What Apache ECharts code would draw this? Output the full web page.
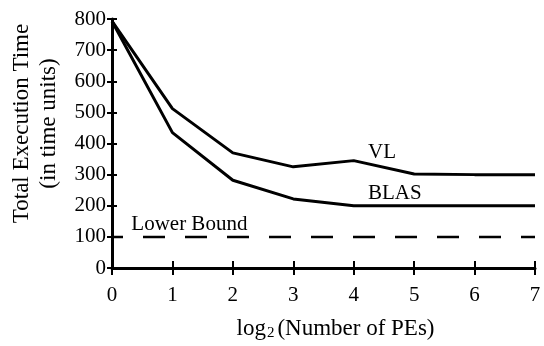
<!DOCTYPE html>
<html>
<head>
<meta charset="utf-8">
<script src="https://cdn.jsdelivr.net/npm/echarts@6/dist/echarts.min.js"></script>
<style>
  html, body { margin: 0; padding: 0; background: #fff; }
  #chart { width: 544px; height: 346px; }
</style>
</head>
<body>
<div id="chart"></div>
<script>
// log2(Number of PEs)
const xValues = [0, 1, 2, 3, 4, 5, 6, 7];
const vlTimes = [793, 512, 370, 325, 345, 302, 300, 300];
const blasTimes = [793, 435, 282, 222, 200, 200, 200, 200];
const lowerBound = [100, 100, 100, 100, 100, 100, 100, 100];

const fontFamily = 'Liberation Serif';
const black = '#000';

const chart = echarts.init(document.getElementById('chart'));

const pairs = vals => xValues.map((x, i) => [x, vals[i]]);

const lineSeries = (name, vals, dashed) => ({
  name: name,
  type: 'line',
  data: pairs(vals),
  symbol: 'none',
  silent: true,
  lineStyle: dashed
    ? { color: black, width: 2.5, type: [22, 20], dashOffset: 11 }
    : { color: black, width: 3 }
});

// text placed in data coordinates next to each curve
const curveLabel = (text, coord) => ({
  markPoint: {
    symbol: 'circle',
    symbolSize: 0,
    silent: true,
    data: [{ coord: coord }],
    label: {
      show: true,
      formatter: text,
      position: 'inside',
      color: black,
      fontFamily: fontFamily,
      fontSize: 21
    }
  }
});

const option = {
  backgroundColor: '#fff',
  animation: false,
  grid: { left: 107, right: 9, top: 19, bottom: 77 },
  xAxis: [
    {
      type: 'value',
      min: 0,
      max: 7,
      interval: 1,
      name: 'log{sub|2}(Number of PEs)',
      nameLocation: 'middle',
      nameGap: 48,
      nameTextStyle: {
        color: black,
        fontFamily: fontFamily,
        fontSize: 23,
        padding: [0, 0, 0, 24],
        rich: {
          sub: { fontFamily: fontFamily, fontSize: 15, color: black, padding: [10, 3, 0, 1] }
        }
      },
      axisLine: { show: true, lineStyle: { color: black, width: 3 } },
      axisTick: { show: true, length: 7, lineStyle: { color: black, width: 2 } },
      axisLabel: { color: black, fontFamily: fontFamily, fontSize: 21, margin: 17 },
      splitLine: { show: false }
    },
    {
      type: 'value',
      min: 0,
      max: 7,
      interval: 1,
      position: 'bottom',
      axisLine: { show: false },
      axisTick: { show: true, inside: true, length: 7, lineStyle: { color: black, width: 2 } },
      axisLabel: { show: false },
      splitLine: { show: false }
    }
  ],
  yAxis: [
    {
      type: 'value',
      min: 0,
      max: 800,
      interval: 100,
      name: 'Total Execution Time\n(in time units)',
      nameLocation: 'middle',
      nameRotate: 90,
      nameGap: 50,
      nameTextStyle: {
        color: black,
        fontFamily: fontFamily,
        fontSize: 23,
        lineHeight: 27,
        padding: [0, 0, 0, 40]
      },
      axisLine: { show: true, lineStyle: { color: black, width: 3 } },
      axisTick: { show: true, length: 5, lineStyle: { color: black, width: 2 } },
      axisLabel: { color: black, fontFamily: fontFamily, fontSize: 21, margin: 6 },
      splitLine: { show: false }
    },
    {
      type: 'value',
      min: 0,
      max: 800,
      interval: 100,
      position: 'left',
      axisLine: { show: false },
      axisTick: { show: true, inside: true, length: 5, lineStyle: { color: black, width: 2 } },
      axisLabel: { show: false },
      splitLine: { show: false }
    }
  ],
  series: [
    Object.assign(lineSeries('VL', vlTimes, false), curveLabel('VL', [4.47, 372])),
    Object.assign(lineSeries('BLAS', blasTimes, false), curveLabel('BLAS', [4.68, 238])),
    Object.assign(lineSeries('Lower Bound', lowerBound, true), curveLabel('Lower Bound', [1.28, 140]))
  ]
};

chart.setOption(option);
window.addEventListener('resize', () => chart.resize());
</script>
</body>
</html>
